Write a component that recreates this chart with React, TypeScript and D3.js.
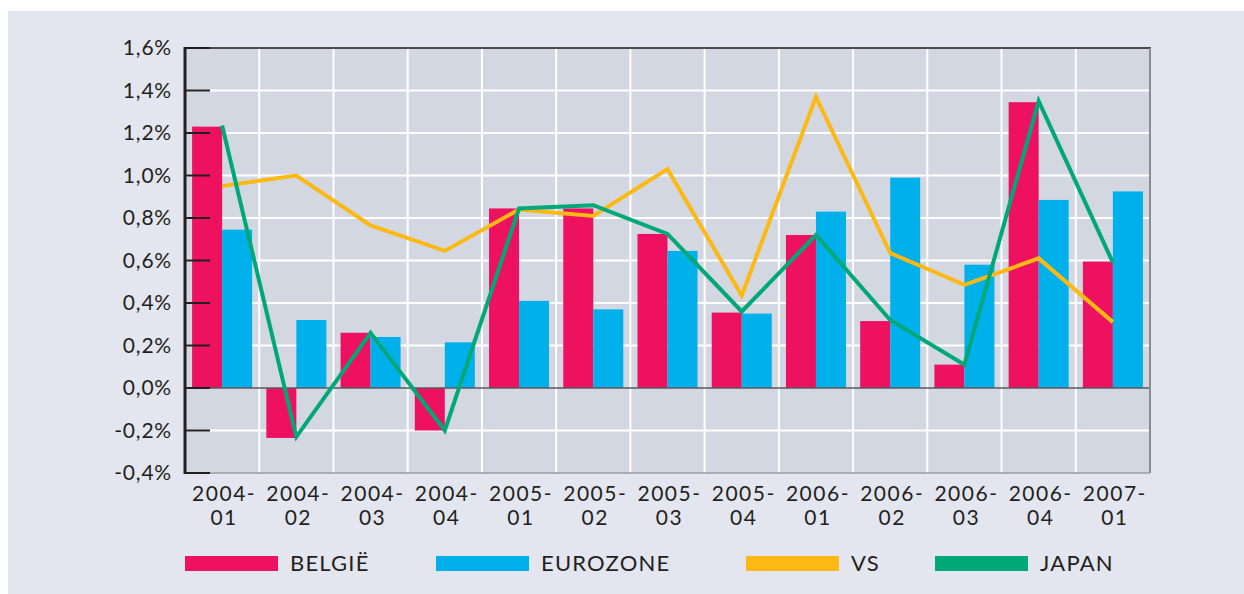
import React, { useEffect, useRef } from 'react';
import * as d3 from 'd3';

const categories = ['2004-01', '2004-02', '2004-03', '2004-04', '2005-01', '2005-02', '2005-03', '2005-04', '2006-01', '2006-02', '2006-03', '2006-04', '2007-01'];
const belgie = [1.23, -0.235, 0.26, -0.2, 0.845, 0.845, 0.725, 0.355, 0.72, 0.315, 0.11, 1.345, 0.595];
const eurozone = [0.745, 0.32, 0.24, 0.215, 0.41, 0.37, 0.645, 0.35, 0.83, 0.99, 0.58, 0.885, 0.925];
const vs = [0.95, 1.0, 0.765, 0.645, 0.84, 0.81, 1.03, 0.435, 1.37, 0.635, 0.485, 0.61, 0.31];
const japan = [1.235, -0.23, 0.26, -0.2, 0.845, 0.86, 0.725, 0.36, 0.72, 0.32, 0.11, 1.35, 0.59];
const yTicks = [-0.4, -0.2, 0, 0.2, 0.4, 0.6, 0.8, 1.0, 1.2, 1.4, 1.6];
const legendNames = ['BELGIË', 'EUROZONE', 'VS', 'JAPAN'];

const colors = { belgie: '#ED1160', eurozone: '#00B0EA', vs: '#FDB913', japan: '#00A878' };
const FONT = 'Lato, "Open Sans", sans-serif';

const App = () => {
  const ref = useRef<SVGSVGElement>(null);

  useEffect(() => {
    const width = 1244;
    const height = 594;
    const svg = d3.select(ref.current);
    svg.selectAll('*').remove();
    svg.attr('width', width).attr('height', height);

    const left = 185, right = 1150, top = 48, bottom = 473;

    svg.append('rect').attr('x', 8).attr('y', 11).attr('width', width - 8).attr('height', height - 11).attr('fill', '#E3E6EE');

    const x = d3.scaleBand().domain(categories).range([left, right]).padding(0);
    const x1 = d3.scaleBand().domain(['belgie', 'eurozone']).range([0, x.bandwidth()]).paddingInner(0).paddingOuter(0.237);
    const y = d3.scaleLinear().domain([-0.4, 1.6]).range([bottom, top]);

    svg.append('rect').attr('x', left).attr('y', top).attr('width', right - left).attr('height', bottom - top).attr('fill', '#D3D7E1');

    // grid
    const grid = svg.append('g').attr('stroke', '#fff').attr('stroke-width', 2);
    grid.selectAll('line.h').data(yTicks.filter(t => t !== 0 && t !== 1.6 && t !== -0.4)).join('line')
      .attr('x1', left).attr('x2', right).attr('y1', d => y(d)).attr('y2', d => y(d));
    grid.selectAll('line.v').data(categories.slice(1)).join('line')
      .attr('x1', d => x(d)!).attr('x2', d => x(d)!).attr('y1', top).attr('y2', bottom);

    // bars
    const bars = svg.append('g');
    const series: [string, number[]][] = [['belgie', belgie], ['eurozone', eurozone]];
    series.forEach(([key, vals]) => {
      bars.selectAll(null).data(vals).join('rect')
        .attr('x', (d, i) => x(categories[i])! + x1(key)!)
        .attr('width', x1.bandwidth())
        .attr('y', d => y(Math.max(0, d)))
        .attr('height', d => Math.abs(y(d) - y(0)))
        .attr('fill', (colors as any)[key]);
    });

    // borders
    svg.append('line').attr('x1', left).attr('x2', right).attr('y1', y(0)).attr('y2', y(0)).attr('stroke', '#5a5a5e').attr('stroke-width', 1.5);
    svg.append('line').attr('x1', left).attr('x2', right + 1).attr('y1', top).attr('y2', top).attr('stroke', '#4a4a4e').attr('stroke-width', 2);
    svg.append('line').attr('x1', right).attr('x2', right).attr('y1', top).attr('y2', bottom).attr('stroke', '#8a8c92').attr('stroke-width', 2);
    svg.append('line').attr('x1', left).attr('x2', right).attr('y1', bottom).attr('y2', bottom).attr('stroke', '#9a9ca2').attr('stroke-width', 1.5);

    // lines
    const line = d3.line<number>().x((d, i) => x(categories[i])! + x.bandwidth() / 2).y(d => y(d));
    svg.append('path').datum(vs).attr('d', line).attr('fill', 'none').attr('stroke', colors.vs).attr('stroke-width', 4);
    svg.append('path').datum(japan).attr('d', line).attr('fill', 'none').attr('stroke', colors.japan).attr('stroke-width', 4);

    // y axis
    const axis = svg.append('g').attr('stroke', '#231F20');
    axis.append('line').attr('x1', left).attr('x2', left).attr('y1', top - 1).attr('y2', bottom + 1).attr('stroke-width', 3);
    axis.selectAll('line.t').data(yTicks).join('line')
      .attr('x1', left).attr('x2', left + 25).attr('y1', d => y(d)).attr('y2', d => y(d)).attr('stroke-width', 2);

    const fmt = (v: number) => (v < 0 ? '-' : '') + Math.abs(v).toFixed(1).replace('.', ',') + '%';
    svg.append('g').selectAll('text').data(yTicks).join('text')
      .attr('x', 172).attr('y', d => y(d)).attr('dy', '0.35em')
      .attr('text-anchor', 'end').attr('font-family', FONT).attr('font-size', 21).attr('letter-spacing', 0.8)
      .attr('fill', '#231F20')
      .text(d => fmt(d));

    // x labels
    const xl = svg.append('g').attr('font-family', FONT).attr('font-size', 21).attr('letter-spacing', 1.5)
      .attr('fill', '#231F20').attr('text-anchor', 'middle');
    categories.forEach(c => {
      const [yr, q] = c.split('-');
      const cx = x(c)! + x.bandwidth() / 2 + 2;
      xl.append('text').attr('x', cx).attr('y', 501).text(yr + '-');
      xl.append('text').attr('x', cx).attr('y', 525).text(q);
    });

    // legend
    const legendX = [185, 436, 746, 935];
    const legendColors = [colors.belgie, colors.eurozone, colors.vs, colors.japan];
    const lg = svg.append('g');
    legendNames.forEach((n, i) => {
      lg.append('rect').attr('x', legendX[i]).attr('y', 556).attr('width', 93).attr('height', 15).attr('fill', legendColors[i]);
      lg.append('text').attr('x', legendX[i] + 105).attr('y', 571).attr('font-family', FONT).attr('font-size', 22)
        .attr('fill', '#231F20').attr('letter-spacing', 1.2).text(n);
    });
  }, []);

  return (
    <div style={{ position: 'absolute', left: 0, top: 0 }}>
      <svg ref={ref} style={{ display: 'block' }}></svg>
    </div>
  );
};

export default App;
